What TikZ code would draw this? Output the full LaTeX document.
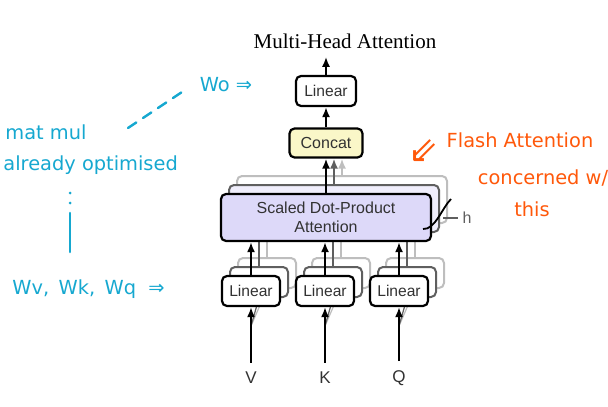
\documentclass[tikz,border=0pt]{standalone}
\usepackage{fontspec}
\setmainfont{Liberation Serif}
\setsansfont{Liberation Sans}
\newfontfamily\handfont{DejaVu Sans}
\usetikzlibrary{arrows.meta,positioning}
\definecolor{concatfill}{RGB}{250,247,200}
\definecolor{attnfill}{RGB}{221,217,249}
\definecolor{attnpale}{RGB}{240,238,252}
\definecolor{midgray}{RGB}{95,95,95}
\definecolor{palegray}{RGB}{190,190,190}
\definecolor{boxtext}{RGB}{50,50,50}
\definecolor{penblue}{RGB}{22,168,208}
\definecolor{penorange}{RGB}{255,88,10}
\tikzset{
  block/.style={draw=black, line width=1.1pt, rounded corners=2.5pt, fill=white, inner sep=0pt,
    font=\sffamily\fontsize{7.8}{9}\selectfont, text=boxtext},
  linbox/.style={block, minimum width=29pt, minimum height=15pt},
  linghost/.style={linbox, draw=#1, line width=1pt},
  attnbox/.style={block, fill=attnfill, minimum width=105pt, minimum height=23.5pt, align=center,
    font=\sffamily\fontsize{8}{9.5}\selectfont},
  attnghost/.style={attnbox, draw=#1, line width=1pt},
  flow/.style={line width=1pt, -{Latex[length=5pt,width=4pt]}},
  hand/.style={font=\handfont\fontsize{9.7}{11}\selectfont, inner sep=0pt},
}
\begin{document}
\begin{tikzpicture}[x=0.5pt,y=-0.5pt]
\useasboundingbox (0,0) rectangle (608,406);
\node[inner sep=0pt, font=\fontsize{10.5}{12}\selectfont] (title) at (345,41) {Multi-Head Attention};
\node[linbox, minimum width=30pt] (linout) at (326,91) {Linear};
\node[block, fill=concatfill, minimum width=36.5pt, minimum height=14.5pt, font=\sffamily\fontsize{8}{9}\selectfont] (concat) at (326,143) {Concat};
\draw[flow, shorten >=4pt] (linout.north) -- (linout.north |- title.south);
\draw[flow] (concat) -- (linout);
\coordinate (sdpac) at (326,217.5);
\node[attnghost=palegray, fill=white] (sdpa3) at ([shift={(16,-18)}]sdpac) {};
\node[attnghost=midgray, fill=attnpale] (sdpa2) at ([shift={(8,-9)}]sdpac) {};
\draw[flow, palegray] (sdpa3.north) -- (sdpa3.north |- concat.south);
\draw[flow, midgray] (sdpa2.north) -- (sdpa2.north |- concat.south);
\foreach \nm/\cx in {V/251,K/325,Q/399}{
  \node[inner sep=0pt, font=\sffamily\fontsize{8.5}{10}\selectfont, text=boxtext] (in\nm) at (\cx,378) {\nm};
  \coordinate (split\nm) at (\cx,326);
  \node[linghost=palegray] (lin\nm3) at (\cx+16,273) {};
  \draw[line width=1pt, palegray] (lin\nm3.north) -- (lin\nm3.north |- sdpa2.south);
  \node[linghost=midgray] (lin\nm2) at (\cx+8,282) {};
  \draw[line width=1pt, midgray] (lin\nm2.north) -- (lin\nm2.north |- sdpa2.south);
  \draw[line width=0.6pt, palegray] (split\nm) -- (lin\nm3.south);
  \draw[line width=0.6pt, midgray] (split\nm) -- (lin\nm2.south);
  \node[linbox] (lin\nm) at (\cx,291) {Linear};
  \draw[flow, shorten <=4.5pt] (in\nm) -- (lin\nm);
}
\node[attnbox] (sdpa) at (sdpac) {Scaled Dot-Product\\Attention};
\foreach \nm in {V,K,Q}
  \draw[flow] (lin\nm) -- (lin\nm |- sdpa.south);
\draw[flow] (sdpa) -- (concat);
\coordinate (hfoot) at (423,229);
\coordinate (htop) at (451,199);
\coordinate (htick) at (443,218);
\node[inner sep=0pt, font=\sffamily\fontsize{8}{9}\selectfont, text=midgray] (hlbl) at (467,218) {h};
\draw[line width=0.9pt] (hfoot) .. controls (435,230) and (442,208) .. (htop);
\draw[line width=0.7pt, midgray] (htick) -- ([xshift=-2pt]hlbl.west);
\node[hand, text=penblue] (wo) at (226,85) {Wo ⇒};
\node[hand, text=penblue, anchor=base west] (matmul) at (5,140) {mat mul};
\node[hand, text=penblue, anchor=base west] (optim) at (3,170) {already optimised};
\node[hand, text=penblue, anchor=west] (wvkq) at (12,289) {Wv,\, Wk,\, Wq\ \ ⇒};
\coordinate (dasha) at (128,128);
\coordinate (dashb) at (182,92);
\draw[penblue, line width=1.2pt, line cap=round, dash pattern=on 5pt off 4pt] (dasha) -- (dashb);
\coordinate (dota) at (70,193);
\coordinate (dotb) at (70,205);
\coordinate (stema) at (70,213);
\coordinate (stemb) at (70,252);
\draw[penblue, line width=1.5pt, line cap=round, dash pattern=on 0pt off 5pt] (dota) -- (dotb);
\draw[penblue, line width=1.3pt, line cap=round] (stema) -- (stemb);
\node[hand, text=penorange, font=\handfont\fontsize{18}{20}\selectfont] (pointer) at (424,151) {⇙};
\node[hand, text=penorange] (flash) at (520,140) {Flash Attention};
\node[hand, text=penorange] (concern) at (543,178) {concerned w/};
\node[hand, text=penorange] (this) at (532,209) {this};
\end{tikzpicture}
\end{document}
